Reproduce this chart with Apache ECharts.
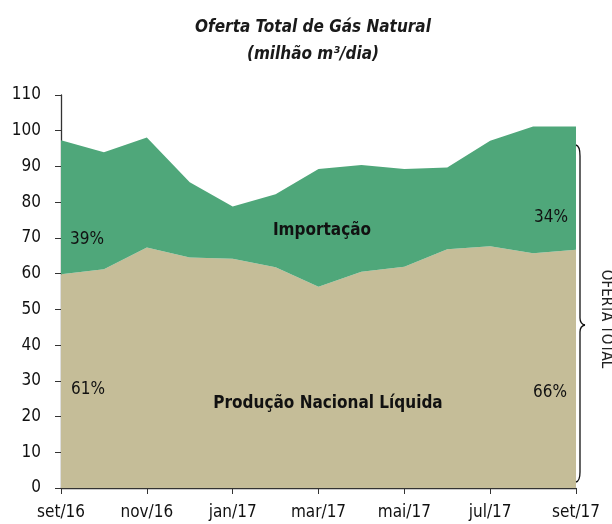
<!DOCTYPE html>
<html><head><meta charset="utf-8">
<script src="https://cdn.jsdelivr.net/npm/echarts@6/dist/echarts.min.js"></script>
<style>html,body{margin:0;padding:0;background:#fff}#c{width:612px;height:524px}</style>
</head><body><div id="c"></div>
<script>
var categories = ['set/16','out/16','nov/16','dez/16','jan/17','fev/17','mar/17','abr/17','mai/17','jun/17','jul/17','ago/17','set/17'];
var producao = [59.8, 61.2, 67.3, 64.5, 64.2, 61.8, 56.3, 60.5, 61.9, 66.8, 67.7, 65.7, 66.7];
var importacao = [37.5, 32.8, 30.8, 21.1, 14.6, 20.4, 33.0, 29.9, 27.4, 22.9, 29.5, 35.5, 34.5];
var yTicks = [0, 110, 10];

var FONT = '"Liberation Sans Narrow", "DejaVu Sans Condensed", "Open Sans", sans-serif';
var chart = echarts.init(document.getElementById('c'), null, {renderer: 'canvas'});
var braceStyle = {stroke: '#111', fill: null, lineWidth: 1.3};
function bz(x1, y1, cx, cy, x2, y2) {
  return {type: 'bezierCurve', shape: {x1: x1, y1: y1, cpx1: cx, cpy1: cy, x2: x2, y2: y2}, style: braceStyle, z: 10};
}
function ln(x1, y1, x2, y2) {
  return {type: 'line', shape: {x1: x1, y1: y1, x2: x2, y2: y2}, style: braceStyle, z: 10};
}
function txt(x, y, t, bold) {
  return {type: 'text', x: x, y: y, style: {text: t, font: (bold ? 'bold ' : '') + '17px ' + FONT, fill: '#111', align: 'center', verticalAlign: 'middle'}, z: 10};
}
chart.setOption({
  animation: false,
  backgroundColor: '#fff',
  title: {
    text: 'Oferta Total de Gás Natural\n(milhão m³/dia)',
    left: 308, top: 9, textAlign: 'center',
    textStyle: {fontFamily: FONT, fontSize: 17, fontWeight: 'bold', fontStyle: 'italic', color: '#1a1a1a', lineHeight: 27}
  },
  grid: {left: 61, right: 36, top: 95, bottom: 36, containLabel: false},
  xAxis: {
    type: 'category', data: categories, boundaryGap: false,
    axisLine: {lineStyle: {color: '#333', width: 1.3}},
    axisTick: {interval: 1, length: 6, lineStyle: {color: '#333'}},
    axisLabel: {interval: 1, color: '#111', fontFamily: FONT, fontSize: 17, margin: 16},
    splitLine: {show: false}
  },
  yAxis: {
    type: 'value', min: yTicks[0], max: yTicks[1], interval: yTicks[2],
    axisLine: {show: true, lineStyle: {color: '#333', width: 1.3}},
    axisTick: {show: true, length: 6, lineStyle: {color: '#333'}},
    axisLabel: {color: '#111', fontFamily: FONT, fontSize: 17, margin: 20},
    splitLine: {show: false}
  },
  series: [
    {name: 'Produção Nacional Líquida', type: 'line', stack: 'total', data: producao,
     symbol: 'none', lineStyle: {width: 0}, areaStyle: {color: '#C5BD98', opacity: 1}, z: 2},
    {name: 'Importação', type: 'line', stack: 'total', data: importacao,
     symbol: 'none', lineStyle: {width: 0}, areaStyle: {color: '#4FA77A', opacity: 1}, z: 2}
  ],
  graphic: [
    txt(87, 240, '39%', false),
    txt(88, 390, '61%', false),
    txt(551, 218, '34%', false),
    txt(550, 393, '66%', false),
    txt(322, 231, 'Importação', true),
    txt(328, 404, 'Produção Nacional Líquida', true),
    bz(576, 145, 580, 146, 580, 156),
    ln(580, 156, 580, 318),
    bz(580, 318, 580, 324, 585, 325),
    bz(585, 325, 580, 326, 580, 332),
    ln(580, 332, 580, 472),
    bz(580, 472, 580, 481, 576, 482),
    {type: 'text', x: 606, y: 319, rotation: -Math.PI / 2,
     style: {text: 'OFERTA TOTAL', font: '15px ' + FONT, fill: '#222', align: 'center', verticalAlign: 'middle'}, z: 10}
  ]
});
</script></body></html>
